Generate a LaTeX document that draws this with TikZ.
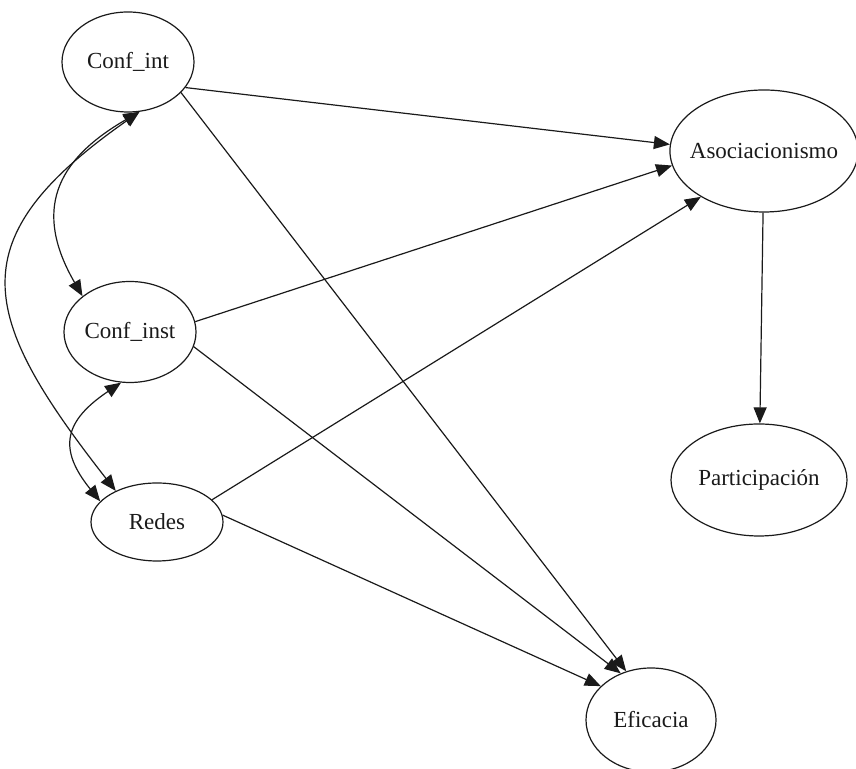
\documentclass[tikz,border=0pt]{standalone}
\usepackage{fontspec}
\setmainfont{Liberation Serif}
\usetikzlibrary{arrows.meta, shapes.geometric}
\definecolor{ink}{HTML}{1A1A1A}
\tikzset{
  var/.style={
    ellipse, draw=ink, line width=0.6pt, inner sep=0pt,
    text=ink, font=\fontsize{11.5}{14}\selectfont
  },
  link/.style={
    draw=ink, line width=0.6pt, -{Triangle[length=8pt, width=6.5pt]}
  },
  covar/.style={
    draw=ink, line width=0.6pt,
    {Triangle[length=8pt, width=6.5pt]}-{Triangle[length=8pt, width=6.5pt]}
  }
}

\begin{document}
\begin{tikzpicture}[x=0.5pt, y=0.5pt]
  \useasboundingbox (0,0) rectangle (856,769);

  % ---- Variables -----------------------------------------------------------
  \node[var, minimum width=66pt, minimum height=50pt] (confint) at (128,707) {Conf\_int};
  \node[var, minimum width=66pt, minimum height=50.5pt] (confinst) at (130,437) {Conf\_inst};
  \node[var, minimum width=66pt, minimum height=39pt] (redes) at (157,247) {Redes};
  \node[var, minimum width=94pt, minimum height=61pt, inner xsep=-3.8pt] (asoc) at (764,618) {Asociacionismo};
  \node[var, minimum width=88pt, minimum height=56pt] (partic) at (759,289) {Participación};
  \node[var, minimum width=65pt, minimum height=52pt] (eficacia) at (651,49) {Eficacia};

  % ---- Direct effects ------------------------------------------------------
  \draw[link] (confint.-24) -- (asoc.176);
  \draw[link] (confint.-30) -- (eficacia.117);
  \draw[link] (confinst.9) -- (asoc.189);
  \draw[link] (confinst.-13) -- (eficacia.123);
  \draw[link] (redes.22) -- (asoc.216);
  \draw[link] (redes.6) -- (eficacia.146);
  \draw[link] (asoc) -- (partic);

  % ---- Covariances ---------------------------------------------------------
  \draw[covar] (confint.-77) to[out=210, in=120, looseness=1.3] (confinst.143);
  \draw[covar] (confint.-77) to[out=215, in=128, looseness=1.5] (redes.143);
  \draw[covar] (confinst.-100) to[out=214, in=129, looseness=1.45] (redes.160);

\end{tikzpicture}
\end{document}
